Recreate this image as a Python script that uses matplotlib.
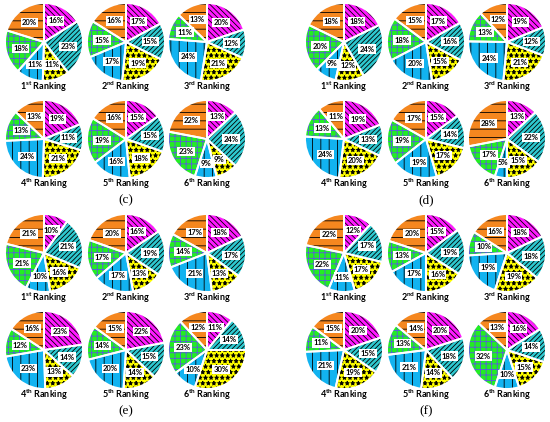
import numpy as np
import matplotlib.pyplot as plt

plt.rcParams['mathtext.fontset'] = 'custom'
plt.rcParams['mathtext.bf'] = 'Lato:bold'
plt.rcParams['mathtext.rm'] = 'Lato'
plt.rcParams['hatch.linewidth'] = 0.6

# slices are listed clockwise from 12 o'clock
rankings = ['1', '2', '3', '4', '5', '6']
suffixes = ['st', 'nd', 'rd', 'th', 'th', 'th']
panel_names = ['(c)', '(d)', '(e)', '(f)']

c_shares = [[16, 23, 11, 11, 18, 20],
            [17, 15, 19, 17, 15, 16],
            [20, 12, 21, 24, 11, 13],
            [19, 11, 21, 24, 13, 13],
            [15, 15, 18, 16, 19, 16],
            [13, 24, 9, 9, 23, 22]]
d_shares = [[18, 24, 12, 9, 20, 18],
            [17, 16, 15, 20, 18, 15],
            [19, 12, 21, 24, 13, 12],
            [19, 13, 20, 24, 13, 11],
            [15, 14, 17, 19, 19, 17],
            [13, 22, 15, 5, 17, 28]]
e_shares = [[10, 21, 16, 10, 21, 21],
            [16, 19, 13, 17, 17, 20],
            [18, 17, 13, 21, 14, 17],
            [23, 14, 13, 23, 12, 16],
            [22, 15, 14, 20, 14, 15],
            [11, 14, 30, 10, 23, 12]]
f_shares = [[12, 17, 17, 11, 22, 22],
            [15, 19, 16, 17, 13, 20],
            [18, 18, 19, 19, 10, 16],
            [20, 15, 19, 21, 11, 15],
            [20, 18, 14, 21, 13, 14],
            [16, 14, 15, 10, 32, 13]]
all_shares = [c_shares, d_shares, e_shares, f_shares]

fills = ['#ff1aff', '#2ec9d0', '#ffff00', '#12b3f0', '#22ee22', '#f5871f']
hatches = ['\\' * 6, '/' * 7, '***', '||', '+++', '--']
hatch_cols = ['black', 'black', 'black', 'black', '#5a5ae0', 'black']

W, H = 550, 422
fig = plt.figure(figsize=(5.5, 4.22), dpi=100)
ax = fig.add_axes([0, 0, 1, 1])

origins = [(0, 0), (300, 0), (0, 211), (300, 211)]
col_x = [44, 126, 207]
row_y = [42, 139]
R = 39

for p, shares in enumerate(all_shares):
    ox, oy = origins[p]
    for i, vals in enumerate(shares):
        cx = ox + col_x[i % 3]
        cy = H - (oy + row_y[i // 3])
        wedges, _ = ax.pie(vals, colors=fills, hatch=hatches, startangle=90,
                           counterclock=False, center=(cx, cy), radius=R,
                           wedgeprops=dict(linewidth=0))
        for w, hc in zip(wedges, hatch_cols):
            w.set_edgecolor(hc)
            w.set_linewidth(0)
        ax.pie(vals, startangle=90, counterclock=False, center=(cx, cy),
               radius=R, wedgeprops=dict(fill=False, edgecolor='white',
                                         linewidth=1.4))
        for w, v in zip(wedges, vals):
            ang = np.deg2rad((w.theta1 + w.theta2) / 2)
            ax.text(cx + 0.62 * R * np.cos(ang), cy + 0.62 * R * np.sin(ang),
                    f'{v}%', ha='center', va='center', fontsize=5.5,
                    family='Lato', weight='bold',
                    bbox=dict(boxstyle='square,pad=0.15', fc='white', ec='none'))
        ax.text(cx, cy - R - 6, r'$\mathbf{' + rankings[i] + '^{' + suffixes[i] + '}}$ Ranking',
                ha='center', va='center', fontsize=6.5, family='Lato', weight='bold')
    ax.text(ox + 126, H - (oy + 200), panel_names[p], ha='center', va='center',
            fontsize=9.5, family='Liberation Serif')

ax.set_xlim(0, W)
ax.set_ylim(0, H)
ax.set_aspect('equal')
ax.axis('off')
fig.savefig('out.png', dpi=100)
